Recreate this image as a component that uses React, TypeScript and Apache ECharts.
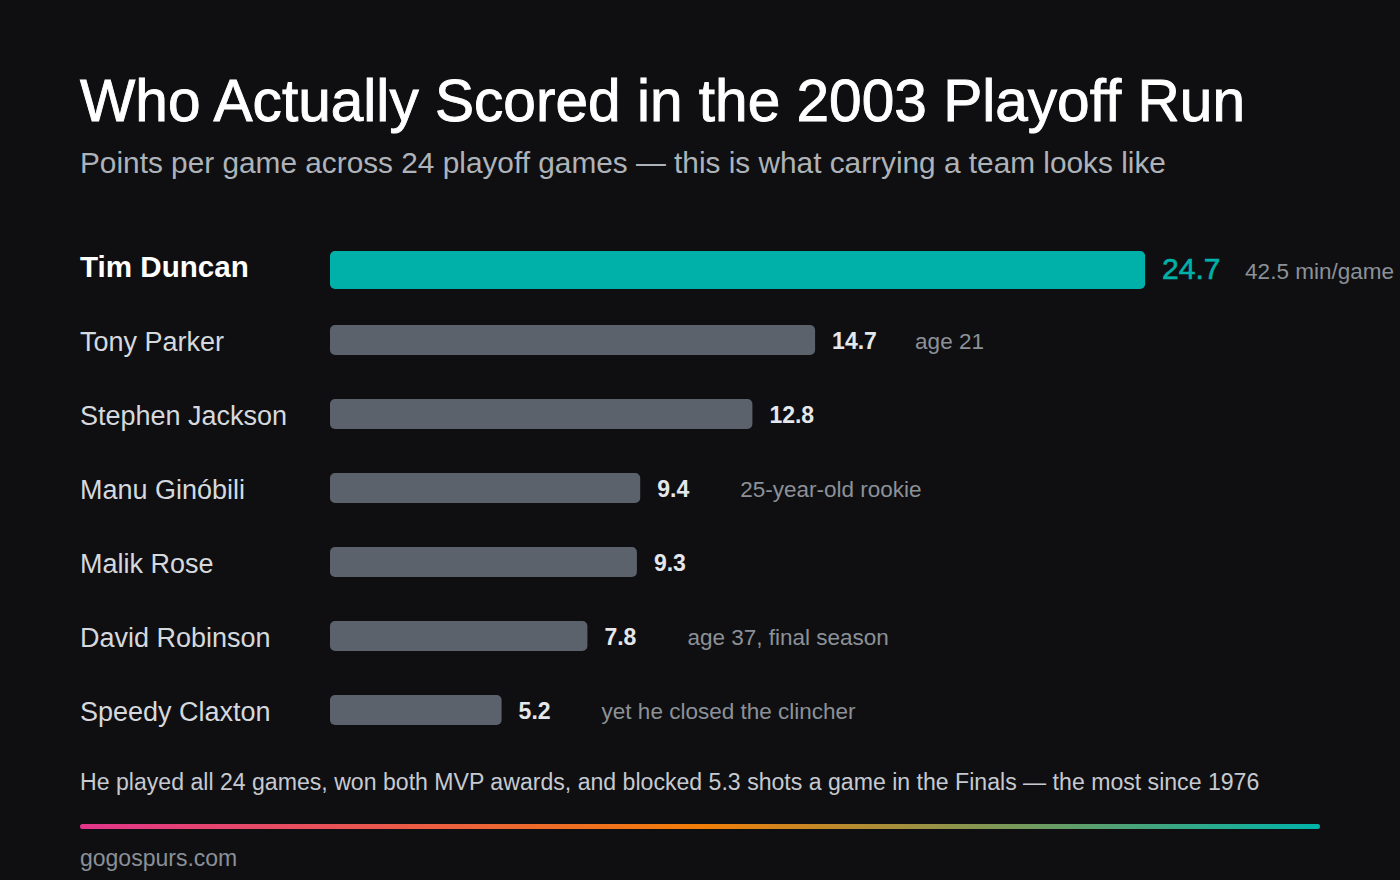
import { useEffect, useRef } from 'react';
import * as echarts from 'echarts';

const players = [
  'Tim Duncan',
  'Tony Parker',
  'Stephen Jackson',
  'Manu Ginóbili',
  'Malik Rose',
  'David Robinson',
  'Speedy Claxton',
];
const ppg = [24.7, 14.7, 12.8, 9.4, 9.3, 7.8, 5.2];
const notes = [
  '42.5 min/game',
  'age 21',
  '',
  '25-year-old rookie',
  '',
  'age 37, final season',
  'yet he closed the clincher',
];
const highlight = 'Tim Duncan';

const FONT = '"Liberation Sans", Arial, sans-serif';
const BG = '#0f0f11';
const TEAL = '#00b1a9';
const GRAY_BAR = '#5b626c';

export default function App() {
  const chartRef = useRef<HTMLDivElement>(null);

  useEffect(() => {
    document.body.style.margin = '0';
    document.body.style.background = BG;
    if (!chartRef.current) return;

    const chart = echarts.init(chartRef.current, null, { renderer: 'svg' });

    // bars + value labels + side notes, placed from the axis scales
    function renderItem(params: any, api: any) {
      const idx = params.dataIndex;
      const val = api.value(0);
      const cat = api.value(1);
      const isTop = players[idx] === highlight;
      const start = api.coord([0, cat]);
      const end = api.coord([val, cat]);
      const band = api.size([0, 1])[1];
      const h = isTop ? band * 0.514 : band * 0.405;
      const cy = start[1] + (isTop ? 4 : 0);

      const children: any[] = [
        {
          type: 'rect',
          shape: { x: start[0], y: cy - h / 2, width: end[0] - start[0], height: h, r: 5 },
          style: { fill: isTop ? TEAL : GRAY_BAR },
        },
        {
          type: 'text',
          x: end[0] + 17,
          y: cy + (isTop ? -2 : 1),
          style: {
            text: String(val),
            fill: isTop ? TEAL : '#e4e7eb',
            fontSize: isTop ? 30 : 23,
            fontWeight: isTop ? 'normal' : 'bold',
            fontFamily: FONT,
            verticalAlign: 'middle',
            align: 'left',
            stroke: isTop ? TEAL : undefined,
            lineWidth: isTop ? 0.6 : 0,
          },
        },
      ];
      if (notes[idx]) {
        children.push({
          type: 'text',
          x: end[0] + 100,
          y: cy + 1,
          style: {
            text: notes[idx],
            fill: '#8c9198',
            fontSize: 22.5,
            fontFamily: FONT,
            verticalAlign: 'middle',
            align: 'left',
          },
        });
      }
      return { type: 'group', children };
    }

    const option = {
      animation: false,
      backgroundColor: BG,
      grid: { left: 330, right: 80, top: 229, height: 518 },
      xAxis: {
        type: 'value',
        min: 0,
        max: 30,
        show: false,
      },
      yAxis: {
        type: 'category',
        data: players,
        inverse: true,
        axisLine: { show: false },
        axisTick: { show: false },
        splitLine: { show: false },
        axisLabel: {
          align: 'left',
          margin: 250,
          fontFamily: FONT,
          formatter: (v: string) => (v === highlight ? `{hl|${v}}` : `{base|${v}}`),
          rich: {
            hl: { fontSize: 29.6, fontWeight: 'bold', color: '#ffffff', fontFamily: FONT },
            base: { fontSize: 27, color: '#d5d9de', fontFamily: FONT, padding: [3, 0, 0, 0] },
          },
        },
      },
      series: [
        {
          type: 'custom',
          renderItem,
          encode: { x: 0, y: 1 },
          data: ppg.map((v, i) => [v, i]),
        },
      ],
      graphic: [
        {
          type: 'text',
          x: 80,
          y: 100,
          style: {
            text: 'Who Actually Scored in the 2003 Playoff Run',
            fill: '#ffffff',
            stroke: '#ffffff',
            lineWidth: 0.9,
            fontSize: 58.6,
            fontFamily: FONT,
            verticalAlign: 'middle',
          },
        },
        {
          type: 'text',
          x: 80,
          y: 162,
          style: {
            text: 'Points per game across 24 playoff games — this is what carrying a team looks like',
            fill: '#aeb3b9',
            fontSize: 29.8,
            fontFamily: FONT,
            verticalAlign: 'middle',
          },
        },
        {
          type: 'text',
          x: 80,
          y: 782,
          style: {
            text: 'He played all 24 games, won both MVP awards, and blocked 5.3 shots a game in the Finals — the most since 1976',
            fill: '#c6cad0',
            fontSize: 23.1,
            fontFamily: FONT,
            verticalAlign: 'middle',
          },
        },
        {
          type: 'rect',
          x: 80,
          y: 824,
          shape: { width: 1240, height: 5, r: 2.5 },
          style: {
            fill: new echarts.graphic.LinearGradient(0, 0, 1, 0, [
              { offset: 0, color: '#e2358c' },
              { offset: 0.5, color: '#f27e08' },
              { offset: 1, color: '#00b4aa' },
            ]),
          },
        },
        {
          type: 'text',
          x: 80,
          y: 858,
          style: {
            text: 'gogospurs.com',
            fill: '#8a9098',
            fontSize: 23,
            fontFamily: FONT,
            verticalAlign: 'middle',
          },
        },
      ],
    };

    chart.setOption(option);

    const handleResize = () => chart.resize();
    window.addEventListener('resize', handleResize);
    return () => {
      window.removeEventListener('resize', handleResize);
      chart.dispose();
    };
  }, []);

  return <div ref={chartRef} style={{ width: 1400, height: 880 }} />;
}
